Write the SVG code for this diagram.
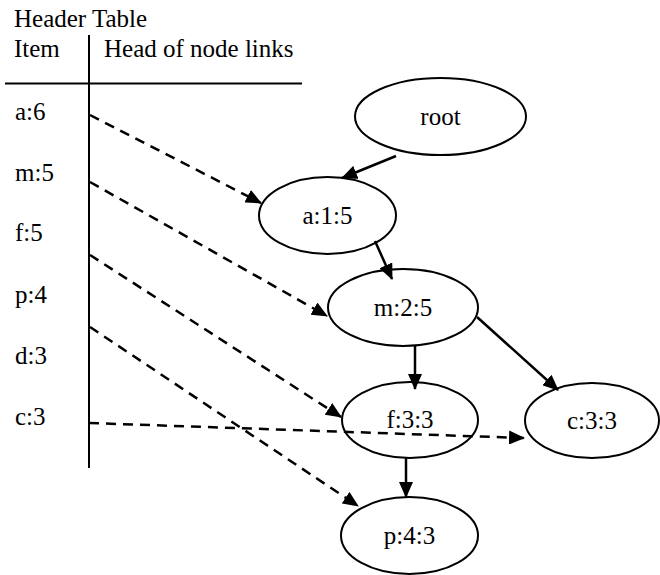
<svg xmlns="http://www.w3.org/2000/svg" width="660" height="575" viewBox="0 0 660 575">
<defs>
<style>
text{font-family:"Liberation Serif","Times New Roman",serif;font-size:25px;fill:#000}
.lbl{text-anchor:middle}
ellipse{fill:#fff;stroke:#000;stroke-width:2}
.rule{stroke:#000;stroke-width:2;fill:none}
.solid{stroke:#000;stroke-width:2.5;fill:none;marker-end:url(#ah)}
.dash{stroke:#000;stroke-width:2.5;fill:none;stroke-dasharray:10,7;marker-end:url(#ah)}
</style>
<marker id="ah" markerUnits="userSpaceOnUse" markerWidth="16" markerHeight="14" refX="15" refY="7" orient="auto" viewBox="0 0 16 14">
<path d="M0,0 L16,7 L0,14 Z" fill="#000"/>
</marker>
</defs>
<rect width="660" height="575" fill="#fff"/>
<g id="header-table">
<text x="14" y="27">Header Table</text>
<text x="14" y="57">Item</text>
<text x="104" y="57">Head of node links</text>
<line class="rule" x1="5" y1="83.5" x2="302" y2="83.5"/>
<line class="rule" x1="89" y1="35" x2="89" y2="468"/>
<text x="15" y="120">a:6</text>
<text x="15" y="181">m:5</text>
<text x="15" y="241">f:5</text>
<text x="15" y="303">p:4</text>
<text x="15" y="364">d:3</text>
<text x="15" y="425">c:3</text>
</g>
<g id="node-root"><ellipse cx="440.5" cy="116.5" rx="85.5" ry="38.5"/><text class="lbl" x="440.5" y="125">root</text></g>
<g id="node-a"><ellipse cx="327.5" cy="215.5" rx="68.5" ry="38.5"/><text class="lbl" x="327.5" y="224">a:1:5</text></g>
<g id="node-m"><ellipse cx="403" cy="307.5" rx="75" ry="38.5"/><text class="lbl" x="403" y="316">m:2:5</text></g>
<g id="node-f"><ellipse cx="410" cy="420" rx="68" ry="38"/><text class="lbl" x="410" y="428">f:3:3</text></g>
<g id="node-c"><ellipse cx="592" cy="420.5" rx="67" ry="37.5"/><text class="lbl" x="592" y="429">c:3:3</text></g>
<g id="node-p"><ellipse cx="409.5" cy="535.5" rx="68.5" ry="38.5"/><text class="lbl" x="409.5" y="544">p:4:3</text></g>
<g id="connectors">
<line class="solid" x1="396" y1="156" x2="342" y2="178"/>
<line class="solid" x1="375" y1="241" x2="392" y2="279"/>
<line class="solid" x1="415" y1="346" x2="415" y2="389"/>
<line class="solid" x1="477" y1="317" x2="558" y2="390"/>
<line class="solid" x1="406" y1="458" x2="406" y2="497"/>
<line class="dash" x1="90" y1="115" x2="261" y2="203"/>
<line class="dash" x1="90" y1="182" x2="327" y2="316"/>
<line class="dash" x1="90" y1="255" x2="341" y2="417"/>
<line class="dash" x1="90" y1="327" x2="358" y2="506"/>
<line class="dash" x1="89" y1="423" x2="524" y2="438"/>
</g>
</svg>
